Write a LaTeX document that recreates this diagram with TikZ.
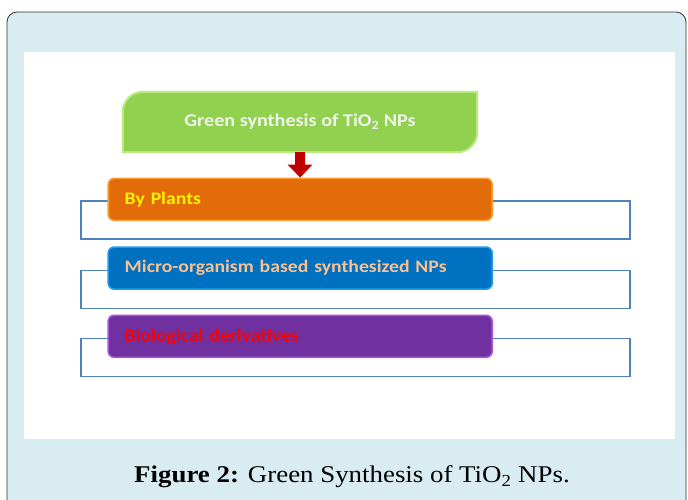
\documentclass[tikz,border=0pt]{standalone}
\usepackage{fontspec}
\setsansfont[FakeStretch=1.12]{Carlito}
\setmainfont[FakeStretch=1.12]{Liberation Serif}
\usetikzlibrary{positioning, calc, arrows.meta, backgrounds}

\definecolor{panelblue}{HTML}{D8ECF1}
\definecolor{frameline}{HTML}{4F81BD}
\definecolor{greenfill}{HTML}{92D050}
\definecolor{greenedge}{HTML}{B8EC7C}
\definecolor{greentext}{HTML}{EEF4EA}
\definecolor{orangefill}{HTML}{E36C0A}
\definecolor{orangeedge}{HTML}{FF9A2E}
\definecolor{bluefill}{HTML}{0070C0}
\definecolor{blueedge}{HTML}{1E9BF0}
\definecolor{peach}{HTML}{FAC090}
\definecolor{purplefill}{HTML}{7030A0}
\definecolor{purpleedge}{HTML}{A458D8}
\definecolor{arrowred}{HTML}{C00000}

\tikzset{
	catbox/.style={rectangle, rounded corners=6pt, draw, line width=1.6pt, minimum width=384pt, minimum height=42pt, text width=351pt, align=left, anchor=west, font=\sffamily\bfseries\fontsize{17.6}{21}\selectfont},
	catframe/.style={rectangle, draw=frameline, line width=1.2pt, minimum width=549pt, minimum height=38pt}
}

\begin{document}
\begin{tikzpicture}[x=1pt, y=-1pt]
	\useasboundingbox (0,0) rectangle (688,499);
	\begin{scope}[on background layer]
		\fill[white] (0,0) rectangle (688,499);
		\filldraw[fill=panelblue, draw=black!80, line width=0.8pt, rounded corners=10pt] (7,12) rectangle (686,530);
		\fill[white] (24,52) rectangle (675,439);
	\end{scope}
	
	\node[minimum width=354pt, minimum height=60pt, text=greentext, font=\sffamily\bfseries\fontsize{18}{21}\selectfont] (green) at (300,122) {Green synthesis of TiO\textsubscript{2} NPs};
	\begin{scope}[on background layer]
		\filldraw[fill=greenfill, draw=greenedge, line width=2pt] (green.south west) [rounded corners=20pt] -- (green.north west) [sharp corners] -- (green.north east) [rounded corners=20pt] -- (green.south east) [sharp corners] -- cycle;
	\end{scope}
	
	\node[catframe] (plantsframe) at (355.5,220) {};
	\node[catbox, fill=orangefill, draw=orangeedge, text=yellow] (plants) at ($(plantsframe.north west)+(27,-1)$) {By Plants};
	
	\node[catframe, below=30pt of plantsframe] (microframe) {};
	\node[catbox, fill=bluefill, draw=blueedge, text=peach] (micro) at ($(microframe.north west)+(27,-1.5)$) {Micro-organism based synthesized NPs};
	
	\node[catframe, below=29pt of microframe] (bioframe) {};
	\node[catbox, fill=purplefill, draw=purpleedge, text=red] (bio) at ($(bioframe.north west)+(27,-1.5)$) {Biological derivatives};
	
	\draw[arrowred, line width=10pt, -{Triangle[length=13pt, width=24pt]}] (green.south) -- (plants.north);
	
	\node[font=\fontsize{24}{28}\selectfont] (caption) at (352,477) {\textbf{Figure 2:} Green Synthesis of TiO\textsubscript{2} NPs.};
\end{tikzpicture}
\end{document}
